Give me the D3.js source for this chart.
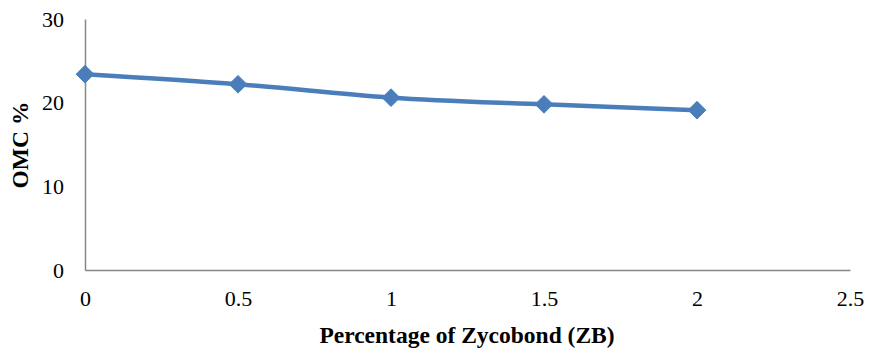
<!DOCTYPE html>
<html>
<head>
<meta charset="utf-8">
<script src="https://cdn.jsdelivr.net/npm/d3@7"></script>
</head>
<body style="margin:0;background:#fff">
<svg id="chart" width="869" height="352" style='font-family: "Liberation Serif", "Times New Roman", Tinos, Times, serif'></svg>
<script>
// Zycobond dosage (%) and optimum moisture content (%)
const zbPercent = [0, 0.5, 1, 1.5, 2];
const omcValues = [23.4, 22.2, 20.6, 19.8, 19.1];
const xTicks = [0, 0.5, 1, 1.5, 2, 2.5];
const yTicks = [0, 10, 20, 30];

const serifStack = '"Liberation Serif", "Times New Roman", Tinos, Times, serif';
const svg = d3.select("#chart");
const plot = { left: 85, right: 850, top: 19, bottom: 270 };

const x = d3.scaleLinear().domain([0, 2.5]).range([plot.left, plot.right]);
const y = d3.scaleLinear().domain([0, 30]).range([plot.bottom, plot.top]);

const axisColor = "#868686";

// Axes without tick marks
const xAxis = svg.append("g")
  .attr("transform", `translate(0,${plot.bottom})`)
  .call(d3.axisBottom(x).tickValues(xTicks).tickSize(0).tickPadding(20)
    .tickFormat(d => String(d)));
const yAxis = svg.append("g")
  .attr("transform", `translate(${plot.left},0)`)
  .call(d3.axisLeft(y).tickValues(yTicks).tickSize(0).tickPadding(21));

[xAxis, yAxis].forEach(g => {
  g.attr("font-family", null).attr("font-size", null);
  g.select(".domain").attr("stroke", axisColor).attr("stroke-width", 1.5);
  g.selectAll("text")
    .style("font-family", serifStack)
    .style("font-size", "22px")
    .attr("fill", "#000");
});
yAxis.selectAll("text").attr("dy", "0.33em");

// Smoothed line through the measurements
const pts = zbPercent.map((d, i) => [d, omcValues[i]]);
svg.append("path")
  .datum(pts)
  .attr("fill", "none")
  .attr("stroke", "#4a7ebb")
  .attr("stroke-width", 4.5)
  .attr("d", d3.line().x(d => x(d[0])).y(d => y(d[1])).curve(d3.curveCatmullRom.alpha(0.5)));

// Diamond markers
const diamond = d3.symbol().type(d3.symbolDiamond2).size(200);
svg.append("g").selectAll("path")
  .data(pts)
  .join("path")
  .attr("transform", d => `translate(${x(d[0])},${y(d[1])})`)
  .attr("d", diamond)
  .attr("fill", "#4a7ebb")
  .attr("stroke", "#4a7ebb")
  .attr("stroke-width", 1);

// Axis titles
svg.append("text")
  .attr("x", 467).attr("y", 343)
  .attr("text-anchor", "middle")
  .style("font-family", serifStack)
  .style("font-size", "23.5px").style("font-weight", "bold")
  .text("Percentage of Zycobond (ZB)");

svg.append("text")
  .attr("transform", "translate(28,145) rotate(-90)")
  .attr("text-anchor", "middle")
  .style("font-family", serifStack)
  .style("font-size", "23.5px").style("font-weight", "bold")
  .text("OMC %");
</script>
</body>
</html>
